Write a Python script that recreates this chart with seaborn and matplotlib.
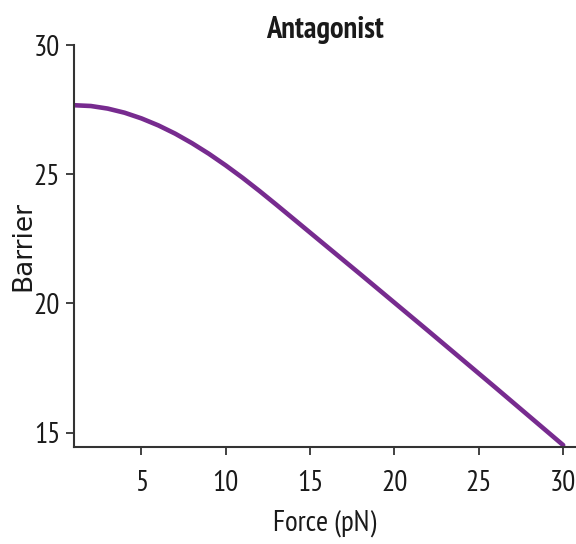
import matplotlib
matplotlib.use("Agg")
import matplotlib.pyplot as plt
import seaborn as sns
import pandas as pd
from matplotlib import font_manager

force = [1, 2, 3, 4, 5, 6, 7, 8, 9, 10, 11, 12, 13, 14, 16, 18, 20, 22, 24, 26, 28, 30]
barrier = [27.67, 27.64, 27.54, 27.38, 27.16, 26.89, 26.57, 26.20, 25.79, 25.34, 24.86,
           24.35, 23.82, 23.28, 22.20, 21.12, 20.03, 18.94, 17.84, 16.74, 15.63, 14.52]
xticks = [5, 10, 15, 20, 25, 30]
yticks = [15, 20, 25, 30]

df = pd.DataFrame({"Force (pN)": force, "Barrier": barrier})

sns.set_theme(style="ticks")
names = {f.name for f in font_manager.fontManager.ttflist}
narrow = next((n for n in ["PT Sans Narrow", "TeX Gyre Heros Cn", "Roboto"] if n in names), "DejaVu Sans")
plt.rcParams["font.family"] = [narrow, "DejaVu Sans"]

fig = plt.figure(figsize=(5.76, 5.44), dpi=100)
ax = fig.add_axes([74/576, 1 - 446.7/544, 1 - 74/576, (446.7 - 45)/544])

sns.lineplot(data=df, x="Force (pN)", y="Barrier", ax=ax, color="#772b8f", linewidth=3.3)

ax.set_xlim(1, 30.76)
ax.set_ylim(14.46, 30)
ax.set_xticks(xticks)
ax.set_yticks(yticks)
ax.tick_params(axis="both", direction="out", length=6, width=1.3, colors="#333333",
               labelcolor="#1a1a1a", labelsize=21)
ax.tick_params(axis="x", pad=11)
ax.tick_params(axis="y", pad=4)
for s in ["top", "right"]:
    ax.spines[s].set_visible(False)
for s in ["left", "bottom"]:
    ax.spines[s].set_color("#333333")
    ax.spines[s].set_linewidth(1.5)

ax.set_title("Antagonist", fontsize=22, fontweight="bold", pad=5, color="#1a1a1a")
ax.set_xlabel("Force (pN)", fontsize=21, labelpad=9, color="#1a1a1a")
ax.set_ylabel("Barrier", fontsize=19, family=["DejaVu Sans"], labelpad=-2, color="#1a1a1a")

fig.savefig("out.png", dpi=100)
